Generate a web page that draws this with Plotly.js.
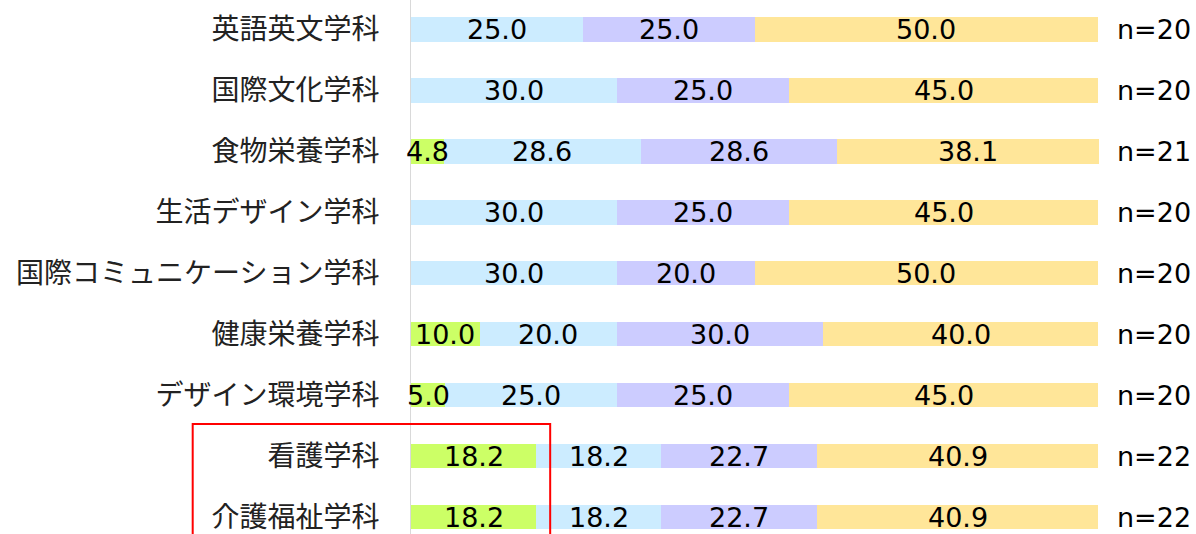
<!DOCTYPE html>
<html>
<head>
<meta charset="utf-8">
<script src="https://cdn.plot.ly/plotly-3.0.1.min.js"></script>
<style>html,body{margin:0;padding:0;background:#fff;}#chart{width:1196px;height:534px;}</style>
</head>
<body>
<div id="chart"></div>
<script>
const categories = ["英語英文学科","国際文化学科","食物栄養学科","生活デザイン学科","国際コミュニケーション学科","健康栄養学科","デザイン環境学科","看護学科","介護福祉学科"];
const seriesA = [0, 0, 4.8, 0, 0, 10.0, 5.0, 18.2, 18.2];
const seriesB = [25.0, 30.0, 28.6, 30.0, 30.0, 20.0, 25.0, 18.2, 18.2];
const seriesC = [25.0, 25.0, 28.6, 25.0, 20.0, 30.0, 25.0, 22.7, 22.7];
const seriesD = [50.0, 45.0, 38.1, 45.0, 50.0, 40.0, 45.0, 40.9, 40.9];
const nLabels = ["n=20","n=20","n=21","n=20","n=20","n=20","n=20","n=22","n=22"];
const colors = ["#CCFF66","#CCECFF","#CCCCFF","#FFE699"];

const all = [seriesA, seriesB, seriesC, seriesD];
const traces = all.map((vals, i) => ({
  type: 'bar',
  orientation: 'h',
  y: categories,
  x: vals,
  width: 0.4,
  marker: {color: colors[i]},
  hoverinfo: 'none',
  showlegend: false
}));

const annotations = [];
categories.forEach((c, r) => {
  let cum = 0;
  all.forEach(vals => {
    const v = vals[r];
    if (v > 0) {
      annotations.push({
        x: cum + v / 2, y: c, xref: 'x', yref: 'y',
        text: v.toFixed(1), showarrow: false, xanchor: 'center', yanchor: 'middle',
        font: {family: 'DejaVu Sans', size: 27, color: '#000'}
      });
    }
    cum += v;
  });
  annotations.push({
    x: 1.023, y: c, xref: 'paper', yref: 'y',
    text: nLabels[r], showarrow: false, xanchor: 'left', yanchor: 'middle',
    font: {family: 'DejaVu Sans', size: 27, color: '#000'}
  });
});

const layout = {
  width: 1196, height: 534,
  margin: {l: 411, r: 97, t: 0, b: 0, pad: 0},
  barmode: 'stack',
  paper_bgcolor: '#fff', plot_bgcolor: '#fff',
  xaxis: {range: [0, 100.1], visible: false, fixedrange: true},
  yaxis: {
    type: 'category',
    range: [8.279, -0.484],
    automargin: false,
    showgrid: false, zeroline: false,
    showline: true, linecolor: '#d9d9d9', linewidth: 1,
    ticks: '', ticklabelstandoff: 25,
    tickfont: {family: 'Noto Sans CJK JP', size: 28, color: '#222'}
  },
  annotations: annotations,
  shapes: [{
    type: 'rect', xref: 'paper', yref: 'paper',
    x0: -0.3173, x1: 0.2023, y0: -0.1, y1: 0.206,
    line: {color: '#FF0000', width: 2}, fillcolor: 'rgba(0,0,0,0)', layer: 'above'
  }]
};

Plotly.newPlot('chart', traces, layout, {staticPlot: true, displayModeBar: false});
</script>
</body>
</html>
